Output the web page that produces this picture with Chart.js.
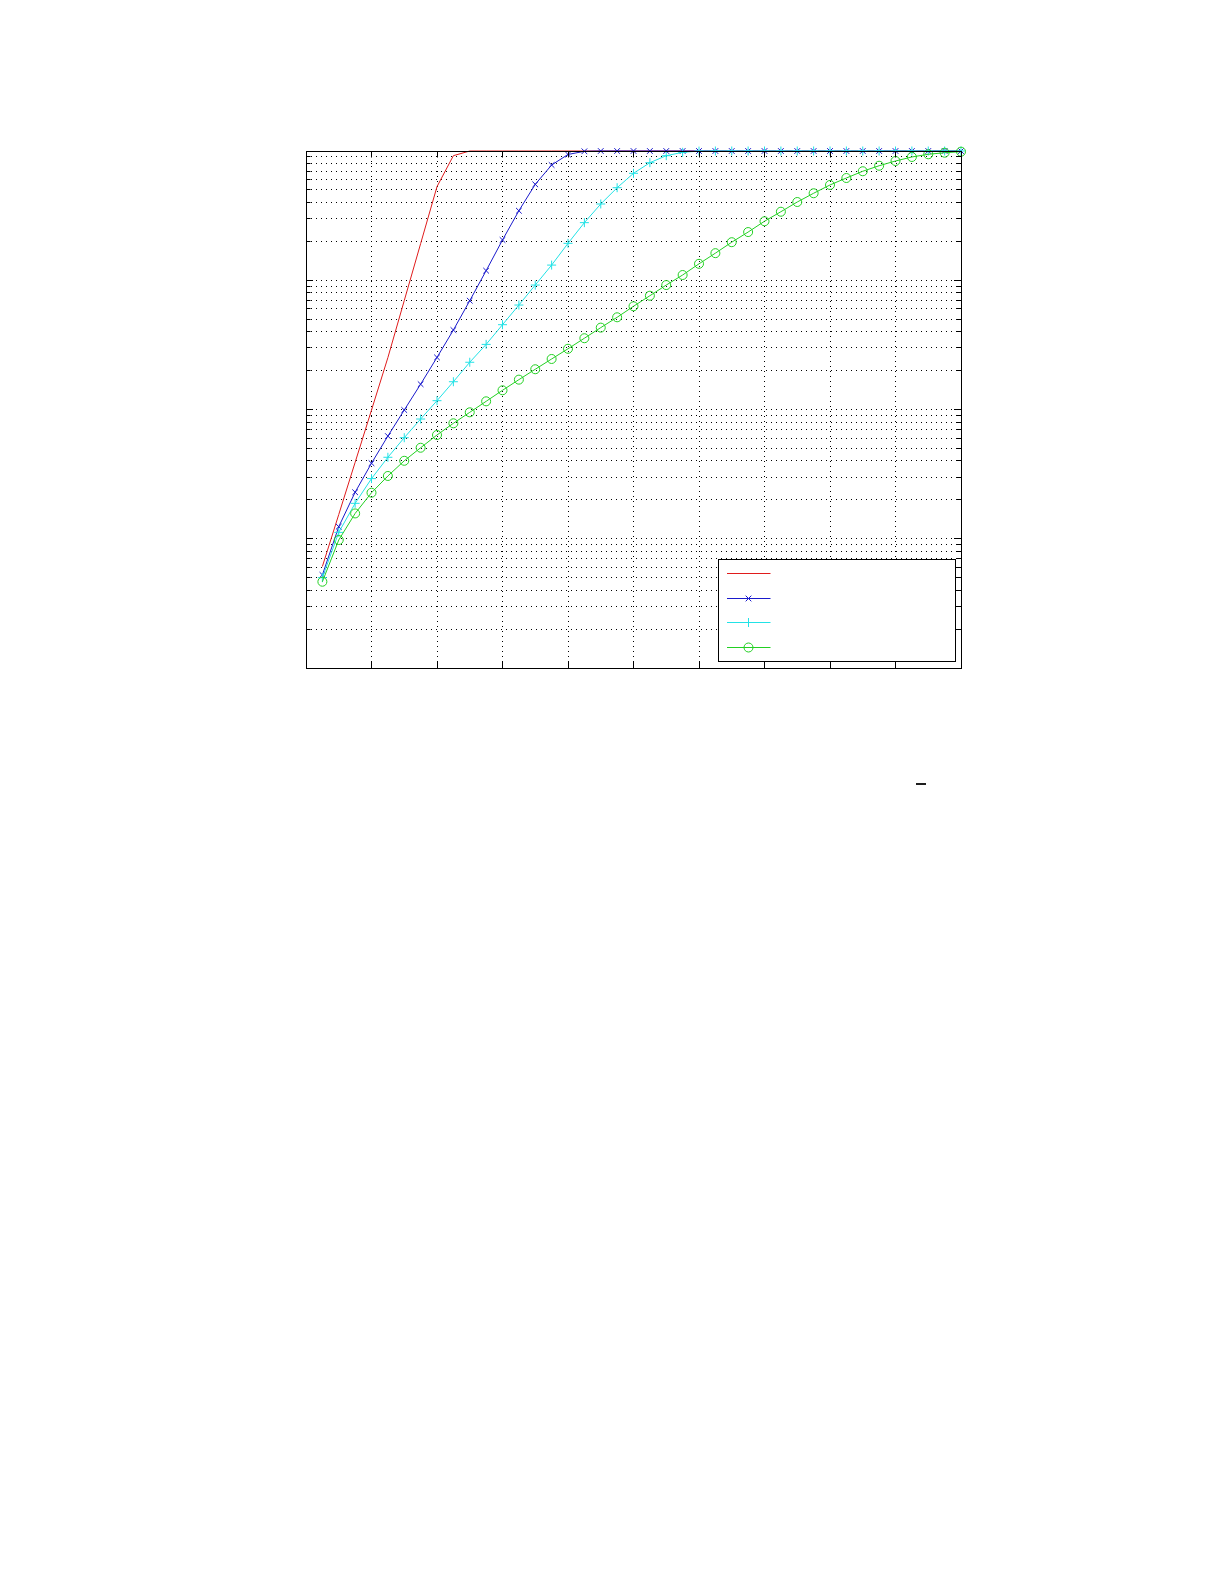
<!DOCTYPE html>
<html><head><meta charset="utf-8">
<script src="https://cdn.jsdelivr.net/npm/chart.js@4.4.1/dist/chart.umd.min.js"></script>
<style>
html,body{margin:0;padding:0;background:#fff;width:1225px;height:1585px;overflow:hidden;}
#wrap{position:absolute;left:286px;top:131px;width:695px;height:557px;}
#mark{position:absolute;left:916px;top:783px;width:10px;height:2px;background:#1e1e1e;}
</style></head><body>
<div id="wrap"><canvas id="c" width="695" height="557"></canvas></div>
<div id="mark"></div>
<script>
const xValues = [1,2,3,4,5,6,7,8,9,10,11,12,13,14,15,16,17,18,19,20,21,22,23,24,25,26,27,28,29,30,31,32,33,34,35,36,37,38,39,40];
const redSeries = [6.1e-4,1.54e-3,3.9e-3,9.9e-3,0.0252,0.0696,0.192,0.53,0.92,1,1,1,1,1,1,1,1,1,1,1,1,1,1,1,1,1,1,1,1,1,1,1,1,1,1,1,1,1,1,1];
const blueSeries = [5.25e-4,1.24e-3,2.29e-3,3.84e-3,6.23e-3,9.91e-3,0.0157,0.0253,0.0412,0.0695,0.1186,0.205,0.345,0.552,0.779,0.94,0.995,1,1,1,1,1,1,1,1,1,1,1,1,1,1,1,1,1,1,1,1,1,1,1];
const cyanSeries = [5.0e-4,1.12e-3,1.88e-3,2.92e-3,4.27e-3,6.05e-3,8.44e-3,0.0117,0.0164,0.0232,0.0319,0.0453,0.0643,0.0918,0.131,0.193,0.279,0.389,0.520,0.672,0.812,0.920,0.977,0.998,1,1,1,1,1,1,1,1,1,1,1,1,1,1,1,1];
const greenSeries = [4.65e-4,9.78e-4,1.57e-3,2.27e-3,3.06e-3,4.01e-3,5.06e-3,6.35e-3,7.82e-3,9.51e-3,0.01157,0.01408,0.01702,0.02048,0.0246,0.0295,0.0356,0.0430,0.0517,0.0629,0.0759,0.0918,0.1098,0.134,0.162,0.197,0.236,0.286,0.339,0.403,0.471,0.546,0.618,0.697,0.769,0.837,0.899,0.943,0.970,0.988];
const xTicks = [0,4,8,12,16,20,24,28,32,36,40];
const yDecades = [1e-4,1e-3,1e-2,1e-1,1];
const yMinorSteps = [2,3,4,5,6,7,8,9];
const legendLabels = ['', '', '', ''];

const yTicks = [];
yDecades.forEach((d, i) => {
  yTicks.push(d);
  if (i < yDecades.length - 1) yMinorSteps.forEach(m => yTicks.push(+(d * m).toPrecision(3)));
});

const toPts = arr => xValues.map((x, i) => ({x: x, y: arr[i]}));

const styles = [
  {color: '#e01c1c', style: false, r: 0},
  {color: '#1a1acc', style: 'crossRot', r: 4},
  {color: '#22e2e6', style: 'cross', r: 4.5},
  {color: '#22d022', style: 'circle', r: 4.5}
];
const seriesList = [redSeries, blueSeries, cyanSeries, greenSeries];

function drawMarker(ctx, style, x, y, r) {
  ctx.beginPath();
  if (style === 'crossRot') {
    const d = r * Math.SQRT1_2;
    ctx.moveTo(x - d, y - d); ctx.lineTo(x + d, y + d);
    ctx.moveTo(x - d, y + d); ctx.lineTo(x + d, y - d);
  } else if (style === 'cross') {
    ctx.moveTo(x - r, y); ctx.lineTo(x + r, y);
    ctx.moveTo(x, y - r); ctx.lineTo(x, y + r);
  } else if (style === 'circle') {
    ctx.arc(x, y, r, 0, Math.PI * 2);
  }
  ctx.stroke();
}

const al = p => Math.round(p - 0.5) + 0.5;

const boxPlugin = {
  id: 'matlabBox',
  afterDatasetsDraw(chart) {
    const {ctx, chartArea: a} = chart;
    const xs = chart.scales.x, ys = chart.scales.y;
    ctx.save();
    ctx.setLineDash([]);
    ctx.lineWidth = 1;
    ctx.strokeStyle = '#000';
    const line = (x1, y1, x2, y2) => { ctx.beginPath(); ctx.moveTo(x1, y1); ctx.lineTo(x2, y2); ctx.stroke(); };
    // inward ticks
    xs.ticks.forEach(t => {
      const px = al(xs.getPixelForValue(t.value));
      line(px, a.bottom, px, a.bottom - 6.5);
      line(px, a.top, px, a.top + 6.5);
    });
    ys.ticks.forEach(t => {
      const py = al(ys.getPixelForValue(t.value));
      const len = yDecades.includes(t.value) ? 7 : 4.5;
      line(a.left, py, a.left + len, py);
      line(a.right, py, a.right - len, py);
    });
    // box
    ctx.strokeRect(al(a.left), al(a.top), Math.round(a.right - a.left), Math.round(a.bottom - a.top));
    // legend
    const lw = 237, lh = 102;
    const lx = al(a.right - 6 - lw), ly = al(a.bottom - 7 - lh);
    ctx.fillStyle = '#fff';
    ctx.fillRect(lx, ly, lw, lh);
    ctx.strokeRect(lx, ly, lw, lh);
    const rows = [14, 39, 62.5, 88];
    styles.forEach((s, i) => {
      const yy = al(ly + rows[i]);
      ctx.strokeStyle = s.color;
      line(lx + 8.5, yy, lx + 52, yy);
      if (s.style) drawMarker(ctx, s.style, lx + 30, yy, s.r);
      ctx.fillStyle = '#000';
      ctx.font = '13px "Liberation Sans"';
      ctx.textBaseline = 'middle';
      ctx.fillText(legendLabels[i], lx + 58, yy);
    });
    ctx.restore();
  }
};

const axisCommon = {
  ticks: {display: false},
  grid: {color: '#000', lineWidth: 1, drawTicks: false},
  border: {display: false, dash: [1, 4]}
};

new Chart(document.getElementById('c'), {
  type: 'line',
  data: {
    datasets: seriesList.map((arr, i) => ({
      data: toPts(arr),
      borderColor: styles[i].color,
      borderWidth: 1,
      pointStyle: styles[i].style || 'circle',
      pointRadius: styles[i].r,
      pointHoverRadius: styles[i].r,
      pointBorderColor: styles[i].color,
      pointBackgroundColor: 'rgba(0,0,0,0)',
      pointBorderWidth: 1,
      tension: 0,
      clip: false,
      order: 4 - i
    }))
  },
  options: {
    responsive: false,
    devicePixelRatio: 1,
    animation: false,
    layout: {padding: {left: 20, top: 20, right: 20, bottom: 20}},
    plugins: {legend: {display: false}, tooltip: {enabled: false}},
    events: [],
    scales: {
      x: Object.assign({type: 'linear', min: 0, max: 40,
        afterBuildTicks: s => { s.ticks = xTicks.map(v => ({value: v})); }}, axisCommon),
      y: Object.assign({type: 'logarithmic', min: 1e-4, max: 1,
        afterBuildTicks: s => { s.ticks = yTicks.map(v => ({value: v})); }}, axisCommon)
    }
  },
  plugins: [boxPlugin]
});
</script>
</body></html>
